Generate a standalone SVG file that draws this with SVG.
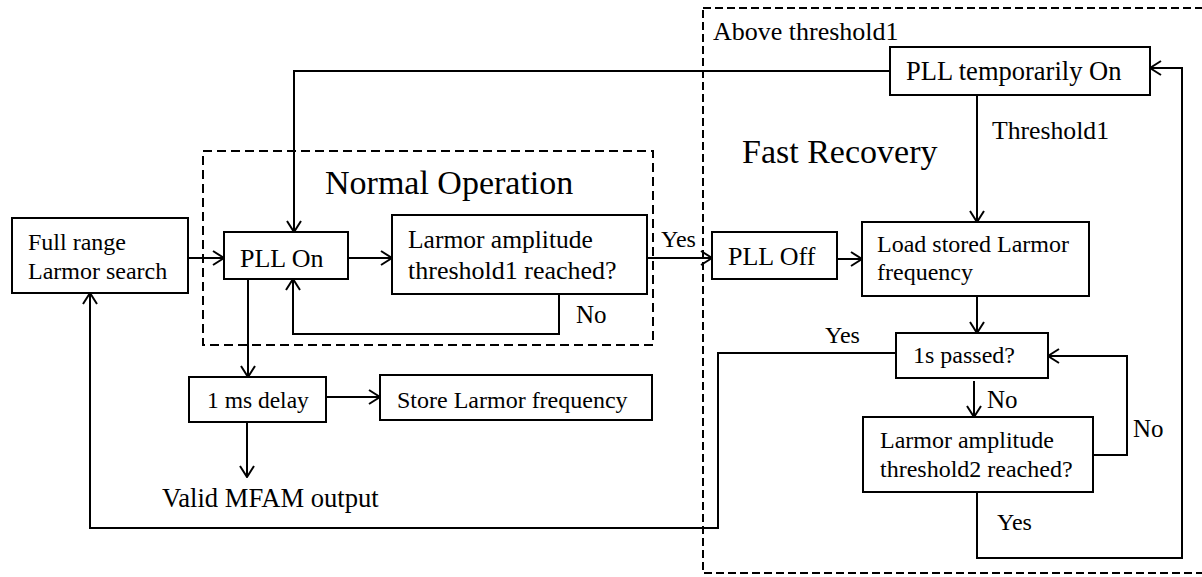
<svg xmlns="http://www.w3.org/2000/svg" width="1202" height="577" viewBox="0 0 1202 577">
<style>
text{font-family:"Liberation Serif","Times New Roman",serif;font-size:25px;fill:#000}
.box{fill:#fff;stroke:#000;stroke-width:2}
.frame{fill:none;stroke:#000;stroke-width:2}
.c{fill:none;stroke:#000;stroke-width:2}
.t{font-size:34px}
</style>
<defs>
<marker id="ah" viewBox="0 0 13 16" refX="12" refY="8" markerWidth="13" markerHeight="16" markerUnits="userSpaceOnUse" orient="auto">
<path d="M1,1 L12,8 L1,15" fill="none" stroke="#000" stroke-width="2"/>
</marker>
</defs>
<rect width="1202" height="577" fill="#fff"/>
<g id="groups">
<rect id="normal-operation" class="frame" x="203" y="151" width="450" height="194" stroke-dasharray="9 5"/>
<text class="t" x="325" y="194">Normal Operation</text>
<rect id="fast-recovery" class="frame" x="703" y="8" width="520" height="565" stroke-dasharray="8 4"/>
<text class="t" x="742" y="163">Fast Recovery</text>
</g>
<g id="connectors">
<path class="c" d="M188,258 H224" marker-end="url(#ah)"/>
<path class="c" d="M890,71 H294 V232" marker-end="url(#ah)"/>
<path class="c" d="M348,258 H392" marker-end="url(#ah)"/>
<path class="c" d="M559,294 V334 H293 V279" marker-end="url(#ah)"/>
<path class="c" d="M647,258 H712" marker-end="url(#ah)"/>
<path class="c" d="M248,279 V377" marker-end="url(#ah)"/>
<path class="c" d="M326,397 H380" marker-end="url(#ah)"/>
<path class="c" d="M247,422 V477" marker-end="url(#ah)"/>
<path class="c" d="M837,259 H862" marker-end="url(#ah)"/>
<path class="c" d="M977,95 V222" marker-end="url(#ah)"/>
<path class="c" d="M977,296 V333" marker-end="url(#ah)"/>
<path class="c" d="M896,353 H718 V528 H90 V293" marker-end="url(#ah)"/>
<path class="c" d="M974,381 V417" marker-end="url(#ah)"/>
<path class="c" d="M1093,455 H1127 V356 H1048" marker-end="url(#ah)"/>
<path class="c" d="M977,492 V558 H1182 V68 H1150" marker-end="url(#ah)"/>
<text x="576" y="323">No</text>
<text x="661" y="247" style="font-size:24px">Yes</text>
<text x="992" y="139" style="font-size:25.7px">Threshold1</text>
<text x="825" y="343" style="font-size:24px">Yes</text>
<text x="987" y="408">No</text>
<text x="1133" y="437">No</text>
<text x="997" y="530" style="font-size:24px">Yes</text>
<text x="713" y="40" style="font-size:26px">Above threshold1</text>
</g>
<g id="full-range">
<rect class="box" x="12" y="218" width="176" height="75"/>
<text x="28" y="250" style="font-size:24px">Full range</text>
<text x="28" y="279" style="font-size:24px">Larmor search</text>
</g>
<g id="pll-on">
<rect class="box" x="224" y="232" width="124" height="47"/>
<text x="240" y="267" style="font-size:26px">PLL On</text>
</g>
<g id="threshold1-check">
<rect class="box" x="392" y="215" width="255" height="79"/>
<text x="408" y="248" style="font-size:25.5px">Larmor amplitude</text>
<text x="408" y="279" style="font-size:26px">threshold1 reached?</text>
</g>
<g id="delay">
<rect class="box" x="189" y="377" width="137" height="45"/>
<text x="207" y="408" style="font-size:23.5px">1 ms delay</text>
</g>
<g id="store">
<rect class="box" x="380" y="375" width="272" height="45"/>
<text x="397" y="408" style="font-size:24px">Store Larmor frequency</text>
</g>
<g id="valid-output">
<text x="162" y="507" style="font-size:26.6px">Valid MFAM output</text>
</g>
<g id="pll-off">
<rect class="box" x="712" y="232" width="125" height="47"/>
<text x="728" y="265" style="font-size:26px">PLL Off</text>
</g>
<g id="pll-temp-on">
<rect class="box" x="890" y="47" width="260" height="48"/>
<text x="906" y="80" style="font-size:26.5px">PLL temporarily On</text>
</g>
<g id="load-stored">
<rect class="box" x="862" y="222" width="227" height="74"/>
<text x="877" y="252" style="font-size:24px">Load stored Larmor</text>
<text x="877" y="280" style="font-size:24px">frequency</text>
</g>
<g id="one-second">
<rect class="box" x="896" y="333" width="152" height="45"/>
<text x="913" y="363" style="font-size:24px">1s passed?</text>
</g>
<g id="threshold2-check">
<rect class="box" x="863" y="417" width="230" height="75"/>
<text x="880" y="448" style="font-size:24px">Larmor amplitude</text>
<text x="880" y="477" style="font-size:24px">threshold2 reached?</text>
</g>
</svg>
